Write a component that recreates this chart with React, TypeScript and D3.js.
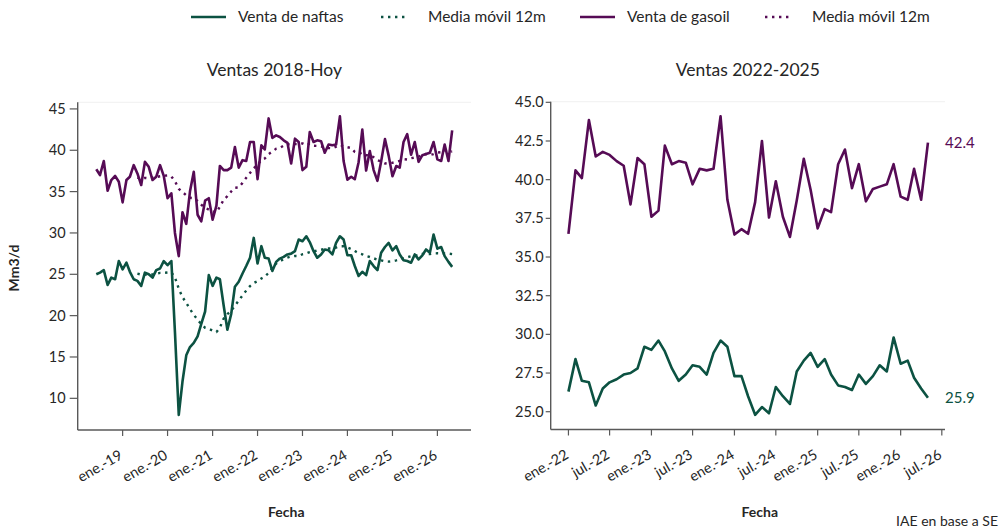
import * as d3 from 'd3';
import React from 'react';

// ventas mensuales, jun-2018 a may-2026 (Mm3/d)
const startYear = 2018;
const startMonth = 5; // junio

const naftas = [
  25.0, 25.2, 25.5, 23.7, 24.6, 24.4, 26.6,
  25.6, 26.4, 25.3, 24.4, 24.2, 23.6, 25.2, 25.0, 24.6, 25.5, 25.7, 26.6,
  26.1, 26.6, 18.0, 8.0, 12.0, 15.2, 16.2, 16.7, 17.5, 19.0, 20.5, 24.9,
  23.6, 24.6, 24.4, 21.2, 18.3, 20.2, 23.5, 24.1, 25.1, 26.0, 27.0, 29.4,
  26.3, 28.4, 27.0, 26.9, 25.4, 26.5, 26.9, 27.1, 27.4, 27.5, 27.8, 29.2,
  29.0, 29.6, 28.9, 27.8, 27.0, 27.4, 28.0, 27.9, 27.4, 28.8, 29.6, 29.2,
  27.3, 27.3, 26.0, 24.8, 25.3, 24.9, 26.6, 26.0, 25.5, 27.6, 28.3, 28.8,
  27.9, 28.4, 27.4, 26.7, 26.6, 26.4, 27.4, 26.8, 27.3, 28.0, 27.6, 29.8,
  28.1, 28.3, 27.2, 26.5, 25.9,
];

const gasoil = [
  37.7, 37.0, 38.7, 35.1, 36.4, 36.9, 36.2,
  33.7, 36.4, 36.8, 38.2, 37.2, 35.8, 38.6, 38.0, 36.4, 36.8, 38.2, 36.9,
  34.2, 34.8, 30.0, 27.2, 32.5, 31.1, 35.0, 37.4, 32.2, 31.4, 33.9, 34.2,
  31.6, 33.3, 38.1, 37.6, 37.6, 37.9, 40.4, 37.9, 38.8, 38.7, 41.0, 41.0,
  36.5, 40.6, 40.1, 43.85, 41.5, 41.8, 41.6, 41.2, 40.9, 38.4, 41.4, 41.0,
  37.6, 38.0, 42.2, 41.0, 41.2, 41.1, 39.7, 40.7, 40.6, 40.7, 44.1, 38.7,
  36.45, 36.8, 36.5, 38.55, 42.5, 37.55, 39.9, 37.6, 36.3, 38.65, 41.35, 39.35,
  36.85, 38.1, 37.9, 41.0, 41.95, 39.45, 41.0, 38.6, 39.4, 39.55, 39.7, 41.0,
  38.9, 38.7, 40.7, 38.7, 42.4,
];

const leftTickLabels = ['ene.-19', 'ene.-20', 'ene.-21', 'ene.-22', 'ene.-23', 'ene.-24', 'ene.-25', 'ene.-26'];
const rightTickLabels = ['ene.-22', 'jul.-22', 'ene.-23', 'jul.-23', 'ene.-24', 'jul.-24', 'ene.-25', 'jul.-25', 'ene.-26', 'jul.-26'];
const leftYTicks = [10, 15, 20, 25, 30, 35, 40, 45];
const rightYTicks = [25, 27.5, 30, 32.5, 35, 37.5, 40, 42.5, 45];

const GREEN = '#0C5242';
const PURPLE = '#560B55';
const AXIS = '#595959';
const TEXT = '#262626';
const FONT = "Lato, 'Open Sans', sans-serif";

const monthIdx: Record<string, number> = { ene: 0, jul: 6 };
const labelDate = (s: string) => {
  const [m, y] = s.split('.-');
  return new Date(2000 + +y, monthIdx[m], 1);
};

type Pt = [Date, number];
const dates = naftas.map((_, i) => new Date(startYear, startMonth + i, 1));
const toPts = (v: number[]): Pt[] => v.map((d, i) => [dates[i], d]);
// media movil de 12 meses
const movingAvg = (v: number[]): Pt[] =>
  v.slice(11).map((_, k) => [dates[k + 11], d3.mean(v.slice(k, k + 12)) as number]);

const cut = dates.findIndex((d) => d >= new Date(2022, 0, 1));

const Panel: React.FC<{
  x: d3.ScaleTime<number, number>;
  y: d3.ScaleLinear<number, number>;
  xTicks: string[];
  yTicks: number[];
  yFmt: (v: number) => string;
  tickLen: number;
  labelGap: number;
  title: string;
  series: { pts: Pt[]; color: string; dotted?: boolean }[];
}> = ({ x, y, xTicks, yTicks, yFmt, tickLen, labelGap, title, series }) => {
  const [x0, x1] = x.range();
  const [y0, y1] = y.range();
  const line = d3
    .line<Pt>()
    .x((d) => x(d[0]))
    .y((d) => y(d[1]));
  return (
    <g>
      <text x={(x0 + x1) / 2} y={76} textAnchor="middle" fontSize={17.5} fill={TEXT}>
        {title}
      </text>
      <line x1={x0} x2={x1} y1={y1} y2={y1} stroke="#f0f0f0" />
      {series.map((s, i) => (
        <path
          key={i}
          d={line(s.pts) ?? ''}
          fill="none"
          stroke={s.color}
          strokeWidth={s.dotted ? 2.4 : 2.6}
          strokeDasharray={s.dotted ? '2.4 4.6' : undefined}
          strokeLinejoin="round"
        />
      ))}
      <line x1={x0} x2={x0} y1={y0} y2={y1} stroke={AXIS} strokeWidth={1.4} />
      <line x1={x0} x2={x1} y1={y0} y2={y0} stroke={AXIS} strokeWidth={1.4} />
      {yTicks.map((t) => (
        <g key={t} transform={`translate(${x0},${y(t)})`}>
          <line x1={-tickLen} x2={0} stroke={AXIS} strokeWidth={1.2} />
          <text x={-labelGap} dy="0.35em" textAnchor="end" fontSize={14.5} fill={TEXT}>
            {yFmt(t)}
          </text>
        </g>
      ))}
      {xTicks.map((t) => {
        const tx = x(labelDate(t));
        return (
          <g key={t}>
            <line x1={tx} x2={tx} y1={y0} y2={y0 + 6} stroke={AXIS} strokeWidth={1.2} />
            <text
              transform={`translate(${tx + 1},${y0 + 28}) rotate(-30)`}
              textAnchor="end"
              fontSize={14.5}
              fill={TEXT}
            >
              {t}
            </text>
          </g>
        );
      })}
      <text x={(x0 + x1) / 2 + 12} y={517} textAnchor="middle" fontSize={14} fontWeight="bold" fill={TEXT}>
        Fecha
      </text>
    </g>
  );
};

const App: React.FC = () => {
  const xL = d3.scaleTime().domain([new Date(2018, 0, 1), new Date(2026, 9, 1)]).range([77.7, 471]);
  const yL = d3.scaleLinear().domain([6.17, 45.8]).range([430, 102.3]);
  const xR = d3.scaleTime().domain([new Date(2021, 9, 15), new Date(2026, 6, 15)]).range([550.7, 945]);
  const yR = d3.scaleLinear().domain([23.85, 45.04]).range([429.5, 101.7]);

  const lastN = naftas[naftas.length - 1];
  const lastG = gasoil[gasoil.length - 1];

  const legend = [
    { label: 'Venta de naftas', color: GREEN, dotted: false, x: 191 },
    { label: 'Media móvil 12m', color: GREEN, dotted: true, x: 381 },
    { label: 'Venta de gasoil', color: PURPLE, dotted: false, x: 580 },
    { label: 'Media móvil 12m', color: PURPLE, dotted: true, x: 765 },
  ];

  return (
    <svg
      width={1001}
      height={531}
      style={{ position: 'absolute', left: 0, top: 0, background: '#fff' }}
      fontFamily={FONT}
    >
      {legend.map((l, i) => (
        <g key={i}>
          <line
            x1={l.x}
            x2={l.x + (l.dotted ? 28 : 35)}
            y1={17}
            y2={17}
            stroke={l.color}
            strokeWidth={2.6}
            strokeDasharray={l.dotted ? '2.4 4.6' : undefined}
          />
          <text x={l.x + 47} y={17} dy="0.35em" fontSize={15.5} fill={TEXT}>
            {l.label}
          </text>
        </g>
      ))}

      <Panel
        x={xL}
        y={yL}
        xTicks={leftTickLabels}
        yTicks={leftYTicks}
        yFmt={(v) => String(v)}
        tickLen={8}
        labelGap={12}
        title="Ventas 2018-Hoy"
        series={[
          { pts: toPts(naftas), color: GREEN },
          { pts: movingAvg(naftas), color: GREEN, dotted: true },
          { pts: toPts(gasoil), color: PURPLE },
          { pts: movingAvg(gasoil), color: PURPLE, dotted: true },
        ]}
      />
      <Panel
        x={xR}
        y={yR}
        xTicks={rightTickLabels}
        yTicks={rightYTicks}
        yFmt={(v) => v.toFixed(1)}
        tickLen={5}
        labelGap={7}
        title="Ventas 2022-2025"
        series={[
          { pts: toPts(naftas).slice(cut), color: GREEN },
          { pts: toPts(gasoil).slice(cut), color: PURPLE },
        ]}
      />
      <text x={945} y={yR(lastG)} dy="0.35em" fontSize={15} fill={PURPLE}>
        {lastG.toFixed(1)}
      </text>
      <text x={945} y={yR(lastN)} dy="0.35em" fontSize={15} fill={GREEN}>
        {lastN.toFixed(1)}
      </text>

      <text transform="translate(19,268) rotate(-90)" textAnchor="middle" fontSize={14} fontWeight="bold" fill={TEXT}>
        Mm3/d
      </text>
      <text x={998} y={526} textAnchor="end" fontSize={14} fill={TEXT}>
        IAE en base a SE
      </text>
    </svg>
  );
};

export default App;
